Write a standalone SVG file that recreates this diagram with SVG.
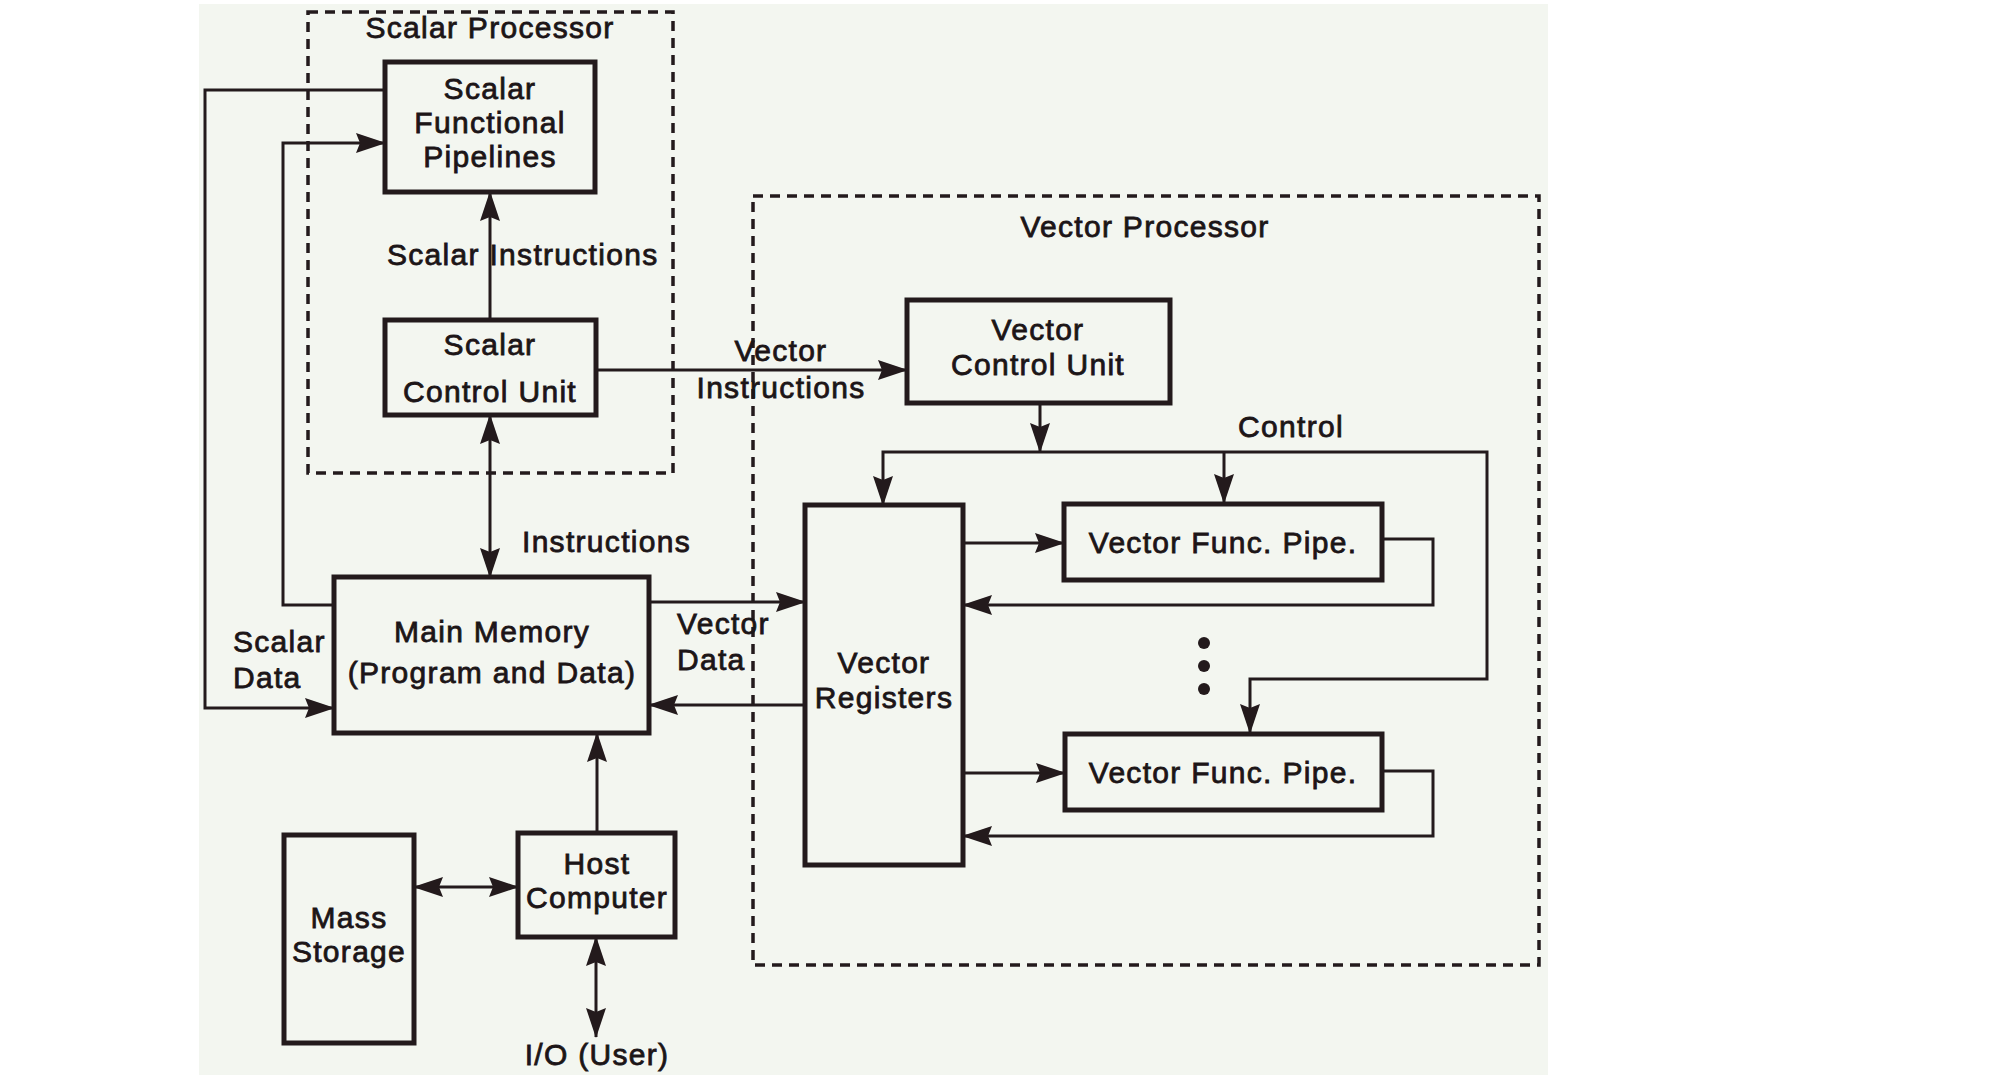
<svg xmlns="http://www.w3.org/2000/svg" width="1992" height="1084" viewBox="0 0 1992 1084">
<style>
.box{fill:none;stroke:#231a1c;stroke-width:5}
.dash{fill:none;stroke:#231a1c;stroke-width:3.5;stroke-dasharray:10 7}
.ln{fill:none;stroke:#231a1c;stroke-width:3}
.t{font-family:"Liberation Sans",Arial,Helvetica,sans-serif;font-size:30px;fill:#1c1517;stroke:#1c1517;stroke-width:0.8px;letter-spacing:1.3px}
.c{text-anchor:middle}
</style>
<defs>
<marker id="ah" viewBox="0 0 30 20" refX="29" refY="10" markerWidth="30" markerHeight="20" markerUnits="userSpaceOnUse" orient="auto-start-reverse">
<path d="M0,0 L30,10 L0,20 L4,10 Z" fill="#231a1c"/>
</marker>
</defs>
<rect x="0" y="0" width="1992" height="1084" fill="#ffffff"/>
<rect x="199" y="4" width="1349" height="1071" fill="#f3f6f0"/>

<g id="scalar-processor">
<rect class="dash" x="308" y="12" width="365" height="461"/>
<text class="t c" x="490" y="38">Scalar Processor</text>
</g>
<g id="vector-processor">
<rect class="dash" x="753" y="196" width="786" height="769"/>
<text class="t c" x="1145" y="237">Vector Processor</text>
</g>

<g id="connectors">
<path class="ln" d="M385,90 H205 V708 H334" marker-end="url(#ah)"/>
<path class="ln" d="M334,605 H283 V143 H385" marker-end="url(#ah)"/>
<path class="ln" d="M490,320 V192" marker-end="url(#ah)"/>
<path class="ln" d="M490,415 V577" marker-start="url(#ah)" marker-end="url(#ah)"/>
<path class="ln" d="M596,370 H907" marker-end="url(#ah)"/>
<path class="ln" d="M1040,403 V452" marker-end="url(#ah)"/>
<path class="ln" d="M883,505 V452 H1487 V679 H1250 V733" marker-start="url(#ah)" marker-end="url(#ah)"/>
<path class="ln" d="M1224,452 V503" marker-end="url(#ah)"/>
<path class="ln" d="M963,543 H1064" marker-end="url(#ah)"/>
<path class="ln" d="M1382,539 H1433 V605 H963" marker-end="url(#ah)"/>
<path class="ln" d="M963,773 H1065" marker-end="url(#ah)"/>
<path class="ln" d="M1382,771 H1433 V836 H963" marker-end="url(#ah)"/>
<path class="ln" d="M649,602 H805" marker-end="url(#ah)"/>
<path class="ln" d="M805,705 H649" marker-end="url(#ah)"/>
<path class="ln" d="M597,833 V733" marker-end="url(#ah)"/>
<path class="ln" d="M414,887 H518" marker-start="url(#ah)" marker-end="url(#ah)"/>
<path class="ln" d="M596,937 V1037" marker-start="url(#ah)" marker-end="url(#ah)"/>
<text class="t" x="387" y="265">Scalar Instructions</text>
<text class="t c" x="781" y="361">Vector</text>
<text class="t c" x="781" y="398">Instructions</text>
<text class="t c" x="1291" y="437">Control</text>
<text class="t" x="522" y="552">Instructions</text>
<text class="t" x="233" y="652">Scalar</text>
<text class="t" x="233" y="688">Data</text>
<text class="t" x="677" y="634">Vector</text>
<text class="t" x="677" y="670">Data</text>
<text class="t c" x="597" y="1065">I/O (User)</text>
</g>

<g id="scalar-functional-pipelines">
<rect class="box" x="385" y="62" width="210" height="130"/>
<text class="t c" x="490" y="99">Scalar</text>
<text class="t c" x="490" y="133">Functional</text>
<text class="t c" x="490" y="167">Pipelines</text>
</g>
<g id="scalar-control-unit">
<rect class="box" x="385" y="320" width="211" height="95"/>
<text class="t c" x="490" y="355">Scalar</text>
<text class="t c" x="490" y="402">Control Unit</text>
</g>
<g id="vector-control-unit">
<rect class="box" x="907" y="300" width="263" height="103"/>
<text class="t c" x="1038" y="340">Vector</text>
<text class="t c" x="1038" y="375">Control Unit</text>
</g>
<g id="vector-registers">
<rect class="box" x="805" y="505" width="158" height="360"/>
<text class="t c" x="884" y="673">Vector</text>
<text class="t c" x="884" y="708">Registers</text>
</g>
<g id="vector-func-pipe-1">
<rect class="box" x="1064" y="504" width="318" height="76"/>
<text class="t c" x="1223" y="553">Vector Func. Pipe.</text>
</g>
<g id="ellipsis">
<circle cx="1204" cy="643" r="6" fill="#231a1c"/>
<circle cx="1204" cy="666" r="6" fill="#231a1c"/>
<circle cx="1204" cy="689" r="6" fill="#231a1c"/>
</g>
<g id="vector-func-pipe-2">
<rect class="box" x="1065" y="734" width="317" height="76"/>
<text class="t c" x="1223" y="783">Vector Func. Pipe.</text>
</g>
<g id="main-memory">
<rect class="box" x="334" y="577" width="315" height="156"/>
<text class="t c" x="492" y="642">Main Memory</text>
<text class="t c" x="492" y="683">(Program and Data)</text>
</g>
<g id="host-computer">
<rect class="box" x="518" y="833" width="157" height="104"/>
<text class="t c" x="597" y="874">Host</text>
<text class="t c" x="597" y="908">Computer</text>
</g>
<g id="mass-storage">
<rect class="box" x="284" y="835" width="130" height="208"/>
<text class="t c" x="349" y="928">Mass</text>
<text class="t c" x="349" y="962">Storage</text>
</g>
</svg>
